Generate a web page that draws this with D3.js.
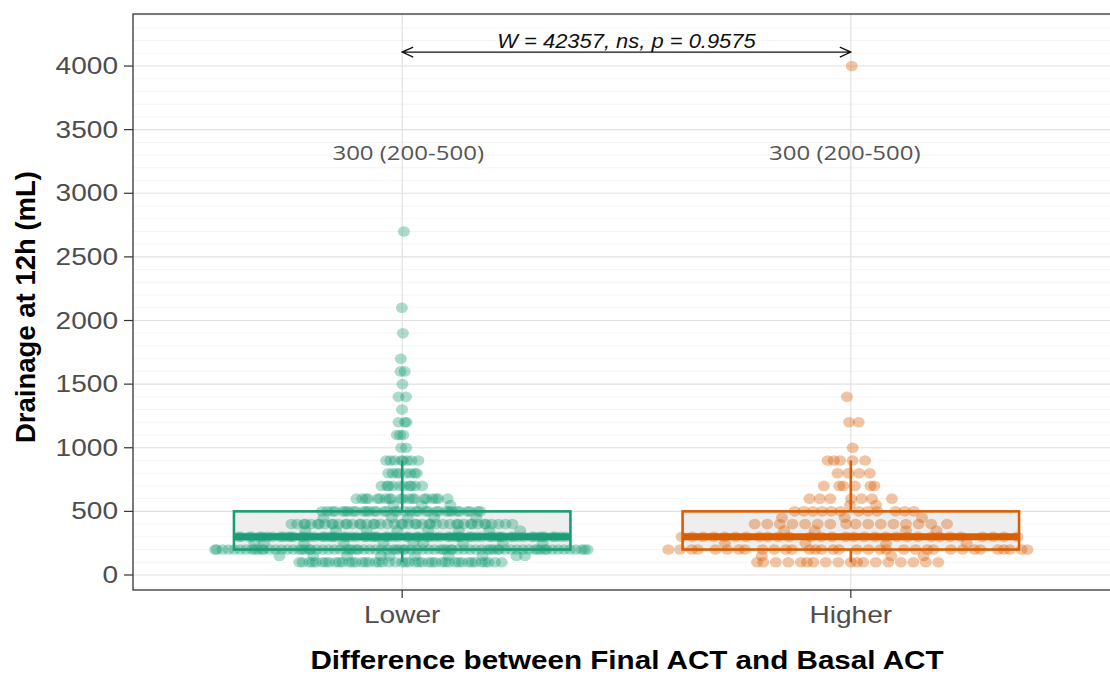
<!DOCTYPE html>
<html>
<head>
<meta charset="utf-8">
<script src="https://cdn.jsdelivr.net/npm/d3@7"></script>
<style>
  html, body { margin: 0; padding: 0; background: #fff; }
  svg { display: block; }
</style>
</head>
<body>
<svg id="chart" width="1110" height="675"></svg>
<script>
// ---- data -------------------------------------------------------------
const categories = ["Lower", "Higher"];

// drainage values (mL) and how many patients share each value
const lowerLevels  = [100, 150, 200, 250, 300, 350, 400, 450, 500, 550, 600, 700, 800, 900, 1000, 1100, 1200, 1300, 1400, 1500, 1600, 1700, 1900, 2100, 2700];
const lowerCounts  = [ 45,  10,  80,  10,  70,   8,  45,   5,  35,   3,  20,  10,   8,   8,    2,    3,    3,    1,    2,    1,    2,    1,    1,    1,    1];
const higherLevels = [100, 150, 200, 250, 300, 350, 400, 450, 500, 550, 600, 700, 800, 900, 1000, 1200, 1400, 4000];
const higherCounts = [ 18,   3,  34,   4,  30,   4,  16,   3,  12,   2,   7,   6,   4,   5,    1,    2,    1,    1];

const yTicks = [0, 500, 1000, 1500, 2000, 2500, 3000, 3500, 4000];
const testLabel = "W = 42357, ns, p = 0.9575";
const bracketValue = 4110;   // height of the comparison bracket
const summaryValue = 3325;   // height of the median (IQR) labels

// ---- setup ------------------------------------------------------------
const colors = { Lower: "#1b9e77", Higher: "#d95f02" };
const panel = { left: 133, top: 14, right: 1120, bottom: 590 };
const sx = 1.22; // horizontal text stretch

const svg = d3.select("#chart");

const x = d3.scalePoint().domain(categories).range([panel.left, panel.right]).padding(0.6);
const y = d3.scaleLinear().domain([-118, 4409]).range([panel.bottom, panel.top]);
const step = x.step();

function expand(levels, counts) {
  const out = [];
  levels.forEach((v, i) => { for (let k = 0; k < counts[i]; k++) out.push(v); });
  return out;
}
const groups = categories.map(c => {
  const vals = c === "Lower" ? expand(lowerLevels, lowerCounts) : expand(higherLevels, higherCounts);
  vals.sort(d3.ascending);
  const q1 = d3.quantile(vals, 0.25), med = d3.quantile(vals, 0.5), q3 = d3.quantile(vals, 0.75);
  const iqr = q3 - q1;
  const hiW = d3.max(vals.filter(v => v <= q3 + 1.5 * iqr));
  const loW = d3.min(vals.filter(v => v >= q1 - 1.5 * iqr));
  return { cat: c, vals, q1, med, q3, hiW, loW };
});

// ---- panel background & grid -----------------------------------------
svg.append("rect").attr("x", panel.left).attr("y", panel.top)
  .attr("width", panel.right - panel.left).attr("height", panel.bottom - panel.top)
  .attr("fill", "#fff");

const grid = svg.append("g");
d3.range(-100, 4401, 100).filter(v => v % 500 !== 0).forEach(v => {
  grid.append("line").attr("x1", panel.left).attr("x2", panel.right)
    .attr("y1", y(v)).attr("y2", y(v)).attr("stroke", "#f4f4f4").attr("stroke-width", 1);
});
yTicks.forEach(v => {
  grid.append("line").attr("x1", panel.left).attr("x2", panel.right)
    .attr("y1", y(v)).attr("y2", y(v)).attr("stroke", "#e0e0e0").attr("stroke-width", 1.1);
});
categories.forEach(c => {
  grid.append("line").attr("x1", x(c)).attr("x2", x(c))
    .attr("y1", panel.top).attr("y2", panel.bottom).attr("stroke", "#e0e0e0").attr("stroke-width", 1.1);
});

// ---- boxes ------------------------------------------------------------
const boxW = step * 0.75;
const boxes = svg.append("g");
groups.forEach(g => {
  const cx = x(g.cat), col = colors[g.cat];
  boxes.append("line").attr("x1", cx).attr("x2", cx).attr("y1", y(g.q3)).attr("y2", y(g.hiW))
    .attr("stroke", col).attr("stroke-width", 2.6);
  boxes.append("line").attr("x1", cx).attr("x2", cx).attr("y1", y(g.q1)).attr("y2", y(g.loW))
    .attr("stroke", col).attr("stroke-width", 2.6);
  boxes.append("rect").attr("x", cx - boxW / 2).attr("width", boxW)
    .attr("y", y(g.q3)).attr("height", y(g.q1) - y(g.q3))
    .attr("fill", "#eeeeee").attr("stroke", col).attr("stroke-width", 2.6);
  boxes.append("line").attr("x1", cx - boxW / 2).attr("x2", cx + boxW / 2)
    .attr("y1", y(g.med)).attr("y2", y(g.med)).attr("stroke", col).attr("stroke-width", 7);
});

// ---- quasirandom point layout (van der Corput over the sorted group) ---
function vdc(n) {
  let v = 0, d = 0.5;
  while (n > 0) { if (n & 1) v += d; n >>= 1; d /= 2; }
  return v;
}
const bw = 40;
const pts = svg.append("g");
groups.forEach(g => {
  const dens = v => d3.sum(g.vals, d => Math.exp(-0.5 * ((v - d) / bw) ** 2));
  const dMax = d3.max(g.vals, dens);
  const maxHW = step * 0.42;
  const data = g.vals.map((v, i) => ({ v, off: (vdc(i + 1) - 0.5) * 2 * maxHW * dens(v) / dMax }));
  pts.selectAll(null).data(data).join("ellipse")
    .attr("cx", d => x(g.cat) + d.off)
    .attr("cy", d => y(d.v))
    .attr("rx", 6).attr("ry", 5.3)
    .attr("fill", colors[g.cat]).attr("fill-opacity", 0.36);
});

// ---- summary labels ---------------------------------------------------
groups.forEach((g, i) => {
  svg.append("text")
    .attr("transform", `translate(${x(g.cat) + (i === 0 ? 6 : -6)},${y(summaryValue)}) scale(1.2,1)`)
    .attr("text-anchor", "middle").attr("dominant-baseline", "central")
    .attr("font-family", "Open Sans").attr("font-size", 20).attr("fill", "#555")
    .text(`${g.med} (${g.q1}-${g.q3})`);
});

// ---- comparison bracket ------------------------------------------------
const by = y(bracketValue), x0 = x("Lower"), x1 = x("Higher");
svg.append("path")
  .attr("d", `M${x0},${by}H${x1}M${x0 + 11},${by - 5}L${x0},${by}L${x0 + 11},${by + 5}M${x1 - 11},${by - 5}L${x1},${by}L${x1 - 11},${by + 5}`)
  .attr("fill", "none").attr("stroke", "#111").attr("stroke-width", 1.3);
svg.append("text")
  .attr("transform", `translate(${(x0 + x1) / 2},${by - 4}) scale(1.07,1)`)
  .attr("text-anchor", "middle")
  .attr("font-family", "Liberation Sans").attr("font-style", "italic")
  .attr("font-size", 20.5).attr("fill", "#111")
  .text(testLabel);

// ---- axes -------------------------------------------------------------
const axes = svg.append("g");
yTicks.forEach(v => {
  axes.append("line").attr("x1", panel.left - 9).attr("x2", panel.left)
    .attr("y1", y(v)).attr("y2", y(v)).attr("stroke", "#333").attr("stroke-width", 1.2);
  axes.append("text")
    .attr("transform", `translate(${panel.left - 15},${y(v)}) scale(${sx},1)`)
    .attr("text-anchor", "end").attr("dominant-baseline", "central")
    .attr("font-family", "Liberation Sans").attr("font-size", 23).attr("fill", "#4d4d4d")
    .text(v);
});
categories.forEach(c => {
  axes.append("line").attr("x1", x(c)).attr("x2", x(c))
    .attr("y1", panel.bottom).attr("y2", panel.bottom + 8).attr("stroke", "#333").attr("stroke-width", 1.2);
  axes.append("text")
    .attr("transform", `translate(${x(c)},${panel.bottom + 25}) scale(${sx},1)`)
    .attr("text-anchor", "middle").attr("dominant-baseline", "central")
    .attr("font-family", "Liberation Sans").attr("font-size", 23).attr("fill", "#4d4d4d")
    .text(c);
});

// panel border
svg.append("rect").attr("x", panel.left).attr("y", panel.top)
  .attr("width", panel.right - panel.left).attr("height", panel.bottom - panel.top)
  .attr("fill", "none").attr("stroke", "#333").attr("stroke-width", 1.3);

// axis titles
svg.append("text")
  .attr("transform", `translate(627,660) scale(1.14,1)`)
  .attr("text-anchor", "middle").attr("dominant-baseline", "central")
  .attr("font-family", "Liberation Sans").attr("font-weight", "bold").attr("font-size", 26)
  .attr("fill", "#000")
  .text("Difference between Final ACT and Basal ACT");
svg.append("text")
  .attr("transform", `translate(25,${(panel.top + panel.bottom) / 2 + 5}) rotate(-90)`)
  .attr("text-anchor", "middle").attr("dominant-baseline", "central")
  .attr("font-family", "Liberation Sans").attr("font-weight", "bold").attr("font-size", 27.5)
  .attr("fill", "#000")
  .text("Drainage at 12h (mL)");
</script>
</body>
</html>
